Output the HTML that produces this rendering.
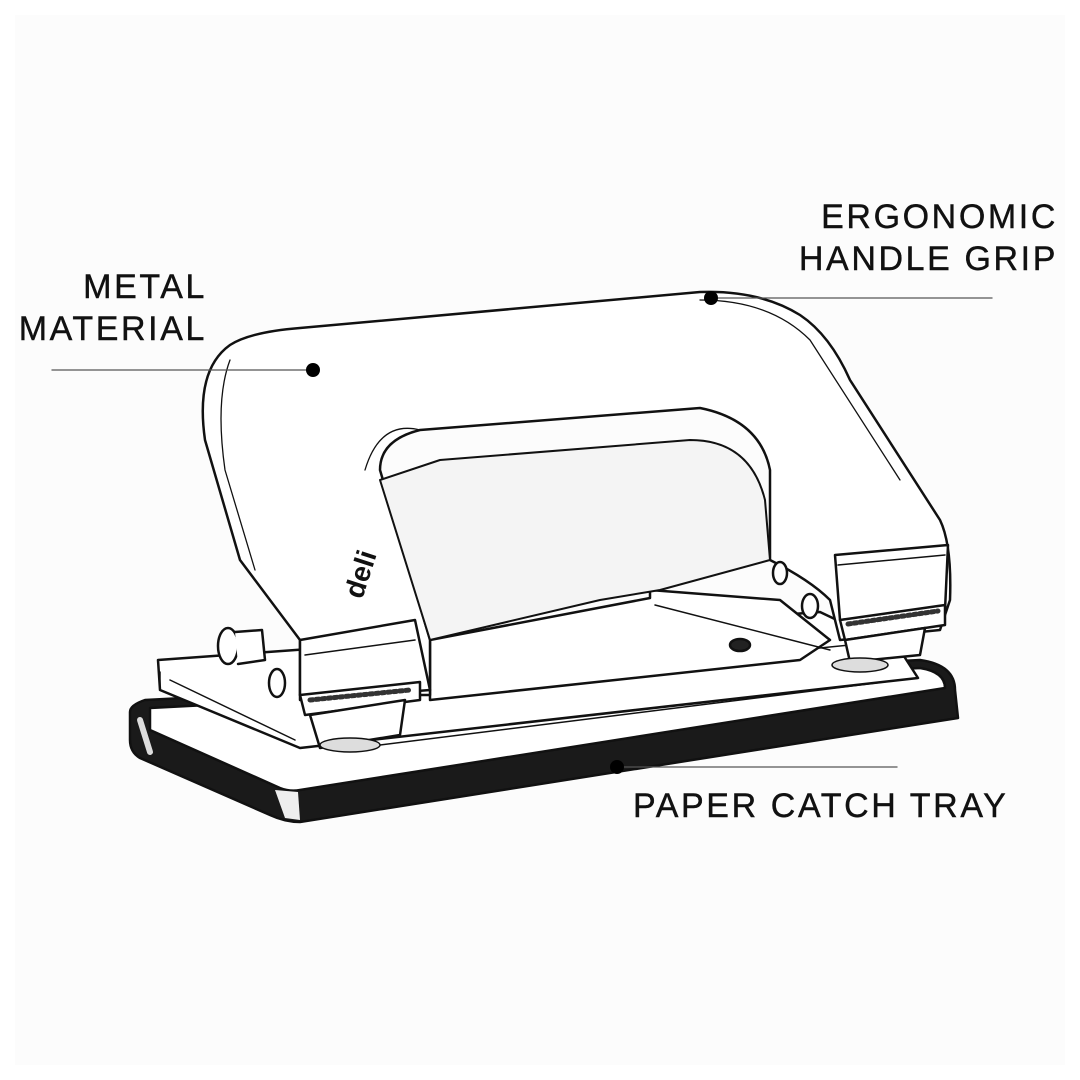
<!DOCTYPE html>
<html><head><meta charset="utf-8"><style>
html,body{margin:0;padding:0;background:#fff}
.wrap{position:relative;width:1080px;height:1080px;background:#fff;overflow:hidden}
.bg{position:absolute;left:15px;top:15px;width:1050px;height:1050px;background:#fcfcfc}
.lab{position:absolute;font-family:"Liberation Sans",sans-serif;font-size:34px;letter-spacing:2.6px;color:#111;line-height:42px;-webkit-text-stroke:0.4px #111}
svg{position:absolute;left:0;top:0}
</style></head><body><div class="wrap"><div class="bg"></div>
<svg width="1080" height="1080" viewBox="0 0 1080 1080" fill="none" stroke="#111" stroke-width="2.5" stroke-linejoin="round" stroke-linecap="round">
<path d="M130,712 Q130,705 145,700 L920,660 Q955,665 955,690 L958,718 L300,822 Q285,822 270,815 L140,758 Q130,752 130,740 Z" fill="#1a1a1a"/>
<path d="M150,708 L920,668 Q945,672 945,688 L300,790 Q290,792 280,788 L150,730 Z" fill="#fff"/>
<path d="M275,790 L285,818 L300,820 L298,792 Z" fill="#eee" stroke="none"/>
<path d="M140,720 L150,752" stroke="#ddd" stroke-width="6"/>
<path d="M158,660 L820,612 L900,650 L918,678 L300,748 L160,690 Z" fill="#fff"/>
<path d="M160,690 L160,672 M170,680 L295,740 M380,745 L900,680 M300,700 L900,640" stroke-width="1.5"/>
<path d="M430,640 L650,598 L650,590 L780,600 L830,640 L800,660 L430,700 Z" fill="#fff"/>
<path d="M655,605 L830,650" stroke-width="1.5"/>
<ellipse cx="740" cy="645" rx="10" ry="6" fill="#222"/>
<path d="M300,695 L300,640 L240,560 L205,440 Q195,370 230,345 Q250,332 300,328 L700,292 Q760,290 800,315 Q830,335 850,380 L940,520 Q952,545 950,600 L940,630 L840,640 L830,600 Q810,580 770,560 L770,470 Q760,420 700,408 L420,430 Q380,440 380,470 L430,640 L430,695 Z" fill="#fff"/>
<path d="M380,480 L440,460 L690,440 Q750,440 765,500 L770,560 L660,590 L600,600 L430,640 Z" fill="#f4f4f4" stroke-width="2"/>
<path d="M230,360 Q215,400 225,470 L255,570 M700,300 Q770,300 810,340 L900,480 M420,430 Q380,420 365,470" stroke-width="1.3"/>
<path d="M300,640 L415,620 L430,690 L300,700 Z" fill="#fff"/>
<path d="M305,655 L415,640" stroke-width="1.5"/>
<path d="M300,695 L420,682 L420,700 L305,715 Z" fill="#fff"/>
<path d="M310,700 L410,690" stroke="#333" stroke-width="5" stroke-dasharray="3 3"/>
<path d="M310,715 L405,700 L400,735 L320,748 Z" fill="#fff"/>
<ellipse cx="350" cy="745" rx="30" ry="7" fill="#ddd" stroke-width="1.5"/>
<ellipse cx="277" cy="683" rx="8" ry="14" fill="#fff"/>
<ellipse cx="228" cy="646" rx="10" ry="18" fill="#fff"/>
<path d="M235,632 L262,630 L265,660 L238,664" fill="#fff"/>
<path d="M835,555 L948,545 L945,610 L840,620 Z" fill="#fff"/>
<path d="M838,565 L945,555" stroke-width="1.5"/>
<path d="M840,620 L945,605 L945,625 L845,640 Z" fill="#fff"/>
<path d="M848,624 L938,611" stroke="#333" stroke-width="5" stroke-dasharray="3 3"/>
<path d="M845,640 L925,628 L920,655 L850,662 Z" fill="#fff"/>
<ellipse cx="860" cy="665" rx="28" ry="7" fill="#ddd" stroke-width="1.5"/>
<ellipse cx="780" cy="573" rx="7" ry="11" fill="#fff"/>
<ellipse cx="810" cy="606" rx="8" ry="12" fill="#fff"/>
<text x="0" y="0" transform="translate(362,600) rotate(-72)" font-family="Liberation Sans,sans-serif" font-weight="bold" font-size="28" fill="#111" stroke="none">deli</text>
<g stroke="#555" stroke-width="1.3"><line x1="52" y1="370" x2="313" y2="370"/><line x1="710" y1="298" x2="992" y2="298"/><line x1="617" y1="767" x2="897" y2="767"/></g>
<g fill="#000" stroke="none"><circle cx="313" cy="370" r="7"/><circle cx="711" cy="298" r="7"/><circle cx="617" cy="767" r="7"/></g>
</svg>
<div class="lab" style="right:873px;top:266px;text-align:right">METAL<br>MATERIAL</div>
<div class="lab" style="right:22px;top:196px;text-align:right">ERGONOMIC<br>HANDLE GRIP</div>
<div class="lab" style="left:633px;top:785px">PAPER CATCH TRAY</div>
</div></body></html>
